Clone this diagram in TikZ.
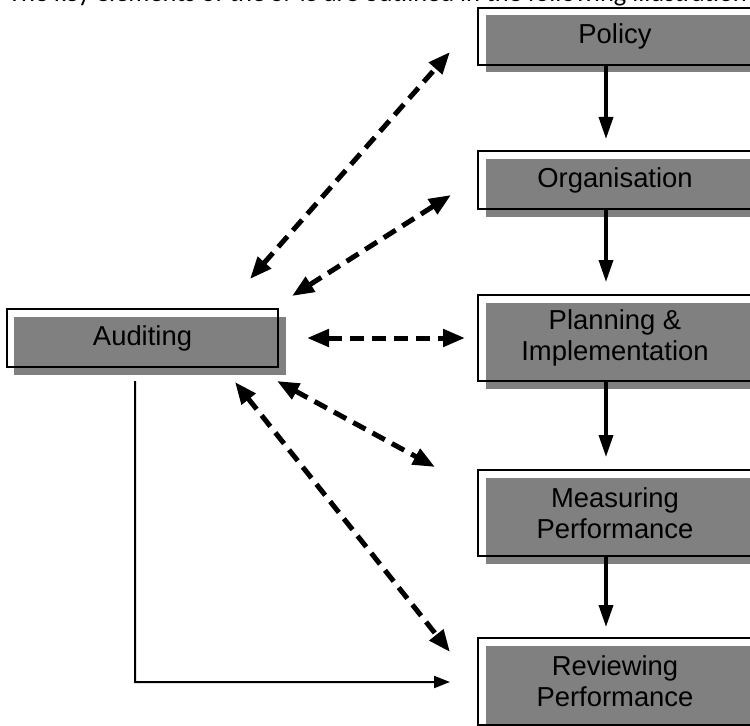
\documentclass[tikz,border=0pt]{standalone}
\usepackage{fontspec}
\setmainfont{Liberation Sans}
\newfontfamily\calib{Carlito}
\usetikzlibrary{arrows.meta,shadows}
\definecolor{boxgray}{RGB}{128,128,128}
\begin{document}
\begin{tikzpicture}[x=1bp,y=-1bp,
 smsbox/.style={draw=black, line width=2bp, rectangle, minimum width=274bp, align=center, inner sep=0pt,
   font=\fontsize{27.5}{31}\selectfont,
   drop shadow={shadow xshift=7.5bp, shadow yshift=-7.5bp, fill=boxgray, opacity=1}},
 flow/.style={line width=3.5bp, -{Triangle[length=22bp,width=14bp]}},
 dash2/.style={line width=5bp, dash pattern=on 14bp off 8bp,
   {Triangle[length=22bp,width=17bp]}-{Triangle[length=22bp,width=17bp]}},
 elbow/.style={line width=2bp, -{Triangle[length=16bp,width=12bp]}}]
\useasboundingbox (0,0) rectangle (750,726);
\node[anchor=base west, font=\calib\fontsize{26.5}{30}\selectfont, inner sep=0pt] (title) at (8,2)
  {The key elements of the SMS are outlined in the following illustration};
\node[smsbox, minimum height=57bp] (pol) at (615,36.5) {Policy};
\node[smsbox, minimum height=58bp] (org) at (615,180) {Organisation};
\node[smsbox, minimum height=86bp] (pla) at (615,338) {Planning \&\\Implementation};
\node[smsbox, minimum height=86bp] (mea) at (615,513) {Measuring\\Performance};
\node[smsbox, minimum height=87bp] (rev) at (615,681.5) {Reviewing\\Performance};
\node[smsbox, minimum width=271bp, minimum height=58bp] (aud) at (142.5,338) {Auditing};
% solid flow arrows
\draw[flow] ([xshift=-9bp]pol.south) -- ([xshift=-9bp,yshift=11bp]org.north);
\draw[flow] ([xshift=-9bp]org.south) -- ([xshift=-9bp,yshift=12bp]pla.north);
\draw[flow] ([xshift=-9bp]pla.south) -- ([xshift=-9bp,yshift=12bp]mea.north);
\draw[flow] ([xshift=-9bp]mea.south) -- ([xshift=-9bp,yshift=10bp]rev.north);
% dashed double arrows
\coordinate (d1a) at (250,279);
\coordinate (d1b) at (450,52);
\coordinate (d2a) at (292,296);
\coordinate (d2b) at (451,195);
\coordinate (d3a) at (307,338);
\coordinate (d3b) at (465,338);
\coordinate (d4a) at (277,381);
\coordinate (d4b) at (435,467);
\coordinate (d5a) at (235,382);
\coordinate (d5b) at (450,652);
\draw[dash2] (d1a) -- (d1b);
\draw[dash2] (d2a) -- (d2b);
\draw[dash2] (d3a) -- (d3b);
\draw[dash2] (d4a) -- (d4b);
\draw[dash2] (d5a) -- (d5b);
% elbow connector
\coordinate (ebend) at (135,682);
\coordinate (eend) at (450,682);
\draw[elbow] ([xshift=-7.5bp,yshift=-13bp]aud.south) -- (ebend) -- (eend);
\end{tikzpicture}
\end{document}
